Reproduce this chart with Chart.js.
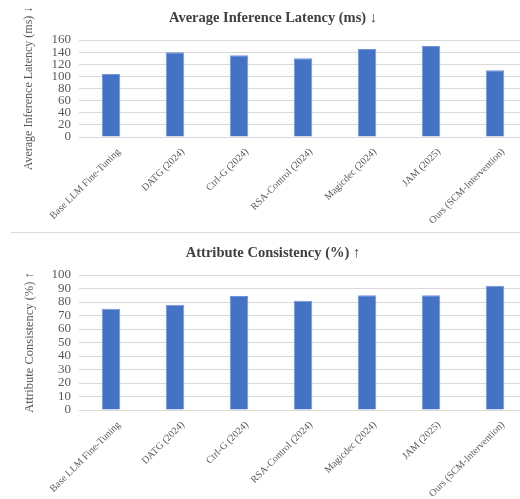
<!DOCTYPE html>
<html>
<head>
<meta charset="utf-8">
<script src="https://cdn.jsdelivr.net/npm/chart.js@4/dist/chart.umd.min.js"></script>
<style>
  html, body { margin: 0; padding: 0; background: #fff; overflow: hidden; width: 520px; height: 499px; }
  .box { position: absolute; left: 0; width: 527px; }
  #sep { position: absolute; left: 11px; top: 232px; width: 509px; height: 1px; background: #d9d9d9; }
</style>
</head>
<body>
<div class="box" style="top:0;height:232px"><canvas id="latency"></canvas></div>
<div id="sep"></div>
<div class="box" style="top:234px;height:265px"><canvas id="consistency"></canvas></div>
<script>
// methods on the x axis (same in both charts)
const methods = [
    "Base LLM Fine-Tuning", "DATG (2024)", "Ctrl-G (2024)", "RSA-Control (2024)",
    "Magicdec (2024)", "JAM (2025)", "Ours (SCM-Intervention)"
];
const latencyMs = [104, 140, 135, 130, 145, 150, 110];
const consistencyPct = [75, 78, 84.5, 81, 85, 85, 92];

const latencyTicks = {max: 160, step: 20};
const consistencyTicks = {max: 100, step: 10};

const FONT = "'Liberation Serif', 'Times New Roman', 'DejaVu Serif', serif";
const BLUE = "#4472C4";
const GREY = "#595959";

function makeChart(id, values, title, axisTitle, ticks, xHeight, axisFont, titleTop) {
    var ctx = document.getElementById(id).getContext("2d");
    return new Chart(ctx, {
        type: "bar",
        data: {
            labels: methods,
            datasets: [{
                data: values,
                backgroundColor: BLUE,
                borderColor: "#6f95d8",
                borderWidth: 1,
                barPercentage: 0.29,
                categoryPercentage: 1
            }]
        },
        options: {
            responsive: true,
            maintainAspectRatio: false,
            animation: false,
            layout: {padding: {left: 19, right: 0, top: 0, bottom: 0}},
            plugins: {
                legend: {display: false},
                tooltip: {enabled: false},
                title: {
                    display: true,
                    text: title,
                    color: "#404040",
                    font: {family: FONT, size: 14.5, weight: "bold"},
                    padding: {top: titleTop, bottom: 12.6}
                }
            },
            scales: {
                x: {
                    grid: {display: false, drawTicks: false},
                    border: {display: false},
                    ticks: {
                        autoSkip: false,
                        minRotation: 45,
                        maxRotation: 45,
                        padding: 9,
                        labelOffset: 8,
                        color: GREY,
                        font: {family: FONT, size: 10}
                    },
                    afterFit: function (s) { s.height = xHeight; }
                },
                y: {
                    min: 0,
                    max: ticks.max,
                    grid: {color: "#d9d9d9", drawTicks: false},
                    border: {display: false},
                    ticks: {
                        autoSkip: false,
                        stepSize: ticks.step,
                        padding: 8,
                        color: GREY,
                        font: {family: FONT, size: 13}
                    },
                    title: {
                        display: true,
                        text: axisTitle,
                        color: GREY,
                        font: {family: FONT, size: axisFont},
                        padding: {top: 3, bottom: 0}
                    },
                    afterFit: function (s) { s.width = 60; }
                }
            }
        }
    });
}

makeChart("latency", latencyMs, "Average Inference Latency (ms) \u2193",
    "Average Inference Latency (ms) \u2193", latencyTicks, 95, 12, 10);
makeChart("consistency", consistencyPct, "Attribute Consistency (%) \u2191",
    "Attribute Consistency (%) \u2191", consistencyTicks, 89, 12.5, 11);
</script>
</body>
</html>
